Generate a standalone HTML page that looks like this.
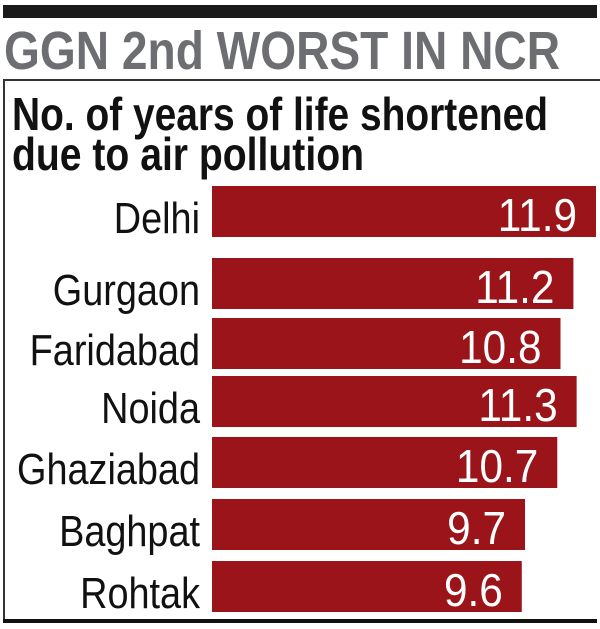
<!DOCTYPE html>
<html><head><meta charset="utf-8"><style>
html,body{margin:0;padding:0;background:#fff;width:600px;height:629px;overflow:hidden}
svg{display:block}
</style></head><body>
<svg width="600" height="629" viewBox="0 0 600 629" id="chart">
<rect x="3" y="5" width="594" height="13" fill="#1a1a1a"/>
<text x="4" y="69" font-family="'Liberation Sans Narrow','Liberation Sans',sans-serif" font-weight="bold" font-size="54" fill="#6d6e71" textLength="556" lengthAdjust="spacingAndGlyphs">GGN 2nd WORST IN NCR</text>
<line x1="3" y1="80" x2="600" y2="80" stroke="#333" stroke-width="2"/>
<line x1="4" y1="80" x2="4" y2="622" stroke="#333" stroke-width="2"/>
<rect x="3" y="619" width="594" height="4" fill="#111"/>
<text x="12" y="130" font-family="'Liberation Sans Narrow','Liberation Sans',sans-serif" font-weight="bold" font-size="46" fill="#111" textLength="536" lengthAdjust="spacingAndGlyphs">No. of years of life shortened</text>
<text x="12" y="170" font-family="'Liberation Sans Narrow','Liberation Sans',sans-serif" font-weight="bold" font-size="46" fill="#111" textLength="352" lengthAdjust="spacingAndGlyphs">due to air pollution</text>
<g id="bars"></g>
</svg>
<script>
const cities = ["Delhi","Gurgaon","Faridabad","Noida","Ghaziabad","Baghpat","Rohtak"];
const years = [11.9,11.2,10.8,11.3,10.7,9.7,9.6];
const valueLabels = ["11.9","11.2","10.8","11.3","10.7","9.7","9.6"];
const barTops = [186,258,318,376,437,499,561];
const x0 = 212, pxPerUnit = 384/11.9, barH = 51;
const xScale = v => x0 + v * pxPerUnit;
const ns = "http://www.w3.org/2000/svg";
const g = document.getElementById('bars');
const font = "'Liberation Sans Narrow','Liberation Sans',sans-serif";
cities.forEach((c,i)=>{
  const y = barTops[i];
  const r = document.createElementNS(ns,'rect');
  r.setAttribute('x',x0); r.setAttribute('y',y);
  r.setAttribute('width',xScale(years[i])-x0); r.setAttribute('height',barH);
  r.setAttribute('fill','#9b141a');
  
  
  g.appendChild(r);
  const l = document.createElementNS(ns,'text');
  l.setAttribute('transform','translate(200,'+(y+47)+') scale(0.86,1)');
  l.setAttribute('text-anchor','end'); l.setAttribute('font-family',font);
  l.setAttribute('font-size','44'); l.setAttribute('fill','#111');
  l.textContent = c;
  
  
  g.appendChild(l);
  const v = document.createElementNS(ns,'text');
  v.setAttribute('transform','translate('+(xScale(years[i])-19)+','+(y+45)+') scale(0.92,1)');
  v.setAttribute('text-anchor','end'); v.setAttribute('font-family',font);
  v.setAttribute('font-size','46'); v.setAttribute('fill','#fff');
  v.textContent = valueLabels[i];
  
  
  g.appendChild(v);
});
</script>
</body></html>
